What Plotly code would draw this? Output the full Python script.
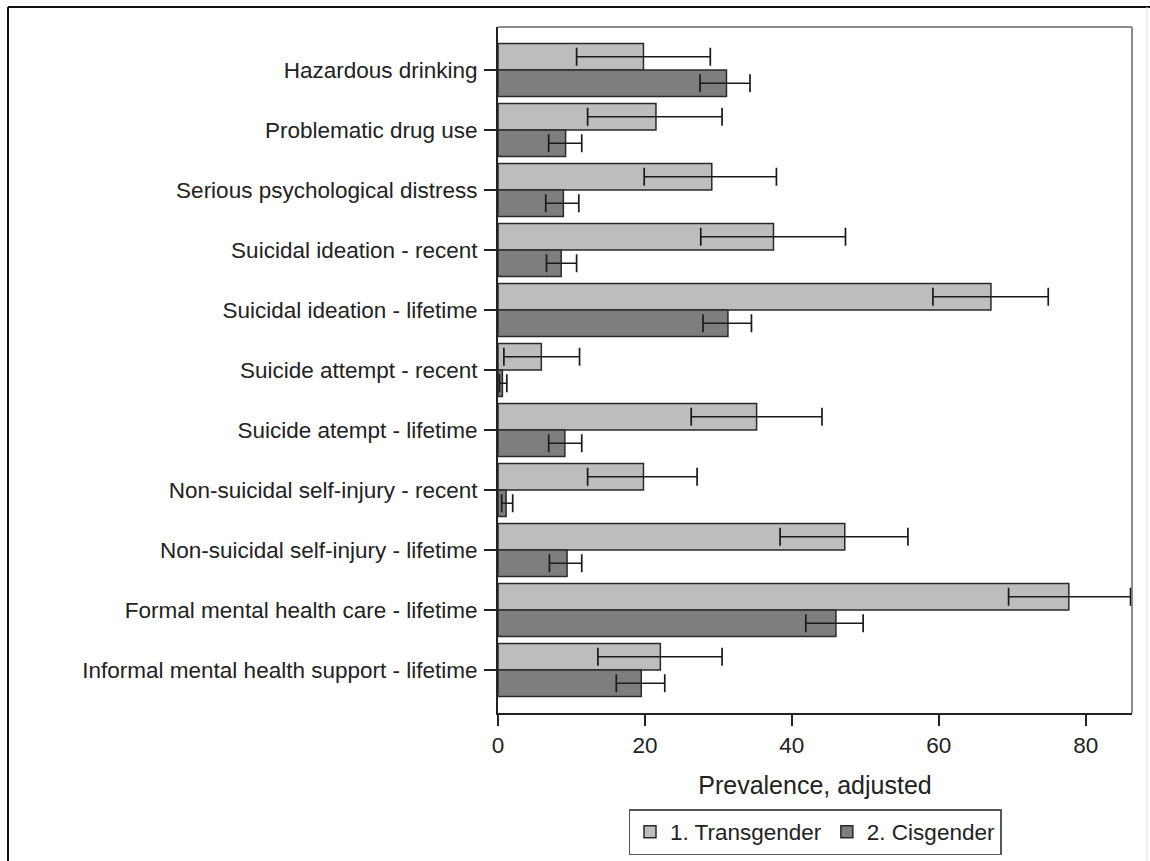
import plotly.graph_objects as go

# Outcomes, listed top to bottom
outcomes = [
    "Hazardous drinking",
    "Problematic drug use",
    "Serious psychological distress",
    "Suicidal ideation - recent",
    "Suicidal ideation - lifetime",
    "Suicide attempt - recent",
    "Suicide atempt - lifetime",
    "Non-suicidal self-injury - recent",
    "Non-suicidal self-injury - lifetime",
    "Formal mental health care - lifetime",
    "Informal mental health support - lifetime",
]

# Adjusted prevalence (%) with 95% confidence limits
trans_est = [19.8, 21.5, 29.1, 37.5, 67.1, 5.9, 35.2, 19.8, 47.2, 77.7, 22.1]
trans_lo = [10.7, 12.2, 19.9, 27.6, 59.2, 0.8, 26.3, 12.2, 38.4, 69.5, 13.6]
trans_hi = [28.9, 30.5, 37.9, 47.3, 74.9, 11.1, 44.1, 27.1, 55.8, 86.1, 30.5]

cis_est = [31.1, 9.2, 8.9, 8.6, 31.3, 0.6, 9.1, 1.1, 9.4, 46.0, 19.5]
cis_lo = [27.5, 6.9, 6.5, 6.6, 27.9, 0.2, 6.9, 0.5, 7.0, 41.9, 16.1]
cis_hi = [34.3, 11.4, 11.0, 10.7, 34.5, 1.2, 11.4, 2.0, 11.4, 49.7, 22.7]

x_ticks = [0, 20, 40, 60, 80]

FONT = "Liberation Sans, Arial, Helvetica, sans-serif"
LIGHT = "#bdbdbd"
DARK = "#7e7e7e"


def err(est, lo, hi):
    return dict(
        type="data",
        symmetric=False,
        array=[h - e for e, h in zip(est, hi)],
        arrayminus=[e - l for e, l in zip(est, lo)],
        color="#1a1a1a",
        thickness=1.7,
        width=9,
    )


fig = go.Figure()
fig.add_trace(go.Bar(
    name="1. Transgender", y=outcomes, x=trans_est, orientation="h",
    marker=dict(color=LIGHT, line=dict(color="#2a2a2a", width=1.5)),
    error_x=err(trans_est, trans_lo, trans_hi),
))
fig.add_trace(go.Bar(
    name="2. Cisgender", y=outcomes, x=cis_est, orientation="h",
    marker=dict(color=DARK, line=dict(color="#2a2a2a", width=1.5)),
    error_x=err(cis_est, cis_lo, cis_hi),
))

fig.update_layout(
    width=1150, height=861,
    margin=dict(l=498, r=18, t=27, b=148, autoexpand=False),
    paper_bgcolor="white", plot_bgcolor="white",
    font=dict(family=FONT, size=22.5, color="#222"),
    barmode="group", bargap=0.117, bargroupgap=0,
    showlegend=True,
    legend=dict(
        orientation="h", x=0.5, xanchor="center", y=-0.207, yanchor="bottom",
        bordercolor="#555", borderwidth=1.5, bgcolor="white",
        font=dict(family=FONT, size=22.5, color="#222"),
        traceorder="normal", itemclick=False,
    ),
)

fig.update_xaxes(
    range=[0, 86.3], tickmode="array", tickvals=x_ticks,
    ticks="outside", ticklen=11, tickwidth=1.5, tickcolor="#222",
    showline=True, linecolor="#222", linewidth=2,
    showgrid=False, zeroline=False, automargin=False,
    title=dict(text="Prevalence, adjusted", font=dict(size=25), standoff=19),
)
fig.update_yaxes(
    range=[10.717, -0.717],
    ticks="outside", ticklen=12, tickwidth=1.5, tickcolor="#222",
    showline=True, linecolor="#222", linewidth=2,
    showgrid=False, zeroline=False, ticklabelstandoff=2, automargin=False,
)

# plot region frame (top and right edges)
fig.add_shape(type="line", xref="paper", yref="paper", x0=0, x1=1, y0=1, y1=1,
              line=dict(color="#666", width=1.5))
fig.add_shape(type="line", xref="paper", yref="paper", x0=1, x1=1, y0=0, y1=1,
              line=dict(color="#666", width=1.5))

# outer graph border
px_x = lambda p: (p - 498) / 634
px_y = lambda p: (713 - p) / 686
fig.add_shape(type="line", xref="paper", yref="paper",
              x0=px_x(8), x1=px_x(1150), y0=px_y(7), y1=px_y(7),
              line=dict(color="#111", width=2))
fig.add_shape(type="line", xref="paper", yref="paper",
              x0=px_x(8), x1=px_x(8), y0=px_y(7), y1=px_y(870),
              line=dict(color="#111", width=2))
fig.add_shape(type="line", xref="paper", yref="paper",
              x0=px_x(1147), x1=px_x(1147), y0=px_y(7), y1=px_y(870),
              line=dict(color="#e4e4e4", width=1))

fig.write_html("out.html")
